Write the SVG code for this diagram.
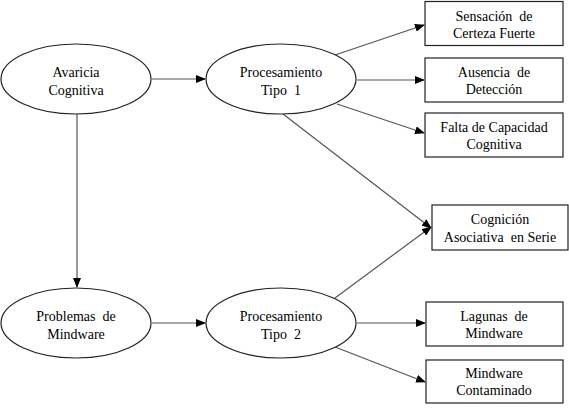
<svg xmlns="http://www.w3.org/2000/svg" width="569" height="408" viewBox="0 0 569 408">
<defs>
<marker id="ah" markerWidth="10" markerHeight="8" refX="9" refY="4" orient="auto" markerUnits="userSpaceOnUse">
<path d="M0,0 L10,4 L0,8 Z" fill="#000"/>
</marker>
<style>
.n{fill:#fff;stroke:#222;stroke-width:1.2}
.t{font-family:"Liberation Serif","Times New Roman",serif;font-size:14px;fill:#000;text-anchor:middle;white-space:pre}
.c{stroke:#555;stroke-width:1.2;fill:none;marker-end:url(#ah)}
</style>
</defs>
<rect width="569" height="408" fill="#fff"/>
<g id="connectors">
<line class="c" x1="152" y1="79" x2="205" y2="79"/>
<line class="c" x1="77" y1="114" x2="77" y2="287"/>
<line class="c" x1="152" y1="323" x2="205" y2="323"/>
<line class="c" x1="335" y1="55" x2="424" y2="25"/>
<line class="c" x1="357" y1="80" x2="424" y2="80"/>
<line class="c" x1="337" y1="104" x2="424" y2="133"/>
<line class="c" x1="283" y1="114" x2="431" y2="228"/>
<line class="c" x1="335" y1="298" x2="431" y2="227"/>
<line class="c" x1="357" y1="323" x2="425" y2="323"/>
<line class="c" x1="335" y1="347" x2="425" y2="382"/>
</g>
<g id="avaricia">
<ellipse class="n" cx="76" cy="79" rx="75" ry="35"/>
<text class="t" x="76" y="77">Avaricia</text>
<text class="t" x="76" y="95">Cognitiva</text>
</g>
<g id="proc1">
<ellipse class="n" cx="281" cy="79" rx="75" ry="35"/>
<text class="t" x="281" y="77">Procesamiento</text>
<text class="t" x="281" y="95">Tipo  1</text>
</g>
<g id="problemas">
<ellipse class="n" cx="76" cy="323" rx="75" ry="35"/>
<text class="t" x="76" y="321">Problemas  de</text>
<text class="t" x="76" y="339">Mindware</text>
</g>
<g id="proc2">
<ellipse class="n" cx="281" cy="323" rx="75" ry="35"/>
<text class="t" x="281" y="321">Procesamiento</text>
<text class="t" x="281" y="339">Tipo  2</text>
</g>
<g id="sensacion">
<rect class="n" x="425" y="1.5" width="138" height="44"/>
<text class="t" x="494" y="21">Sensación  de</text>
<text class="t" x="494" y="38">Certeza Fuerte</text>
</g>
<g id="ausencia">
<rect class="n" x="425" y="58" width="138" height="44"/>
<text class="t" x="494" y="77">Ausencia  de</text>
<text class="t" x="494" y="94">Detección</text>
</g>
<g id="falta">
<rect class="n" x="425" y="113" width="138" height="44"/>
<text class="t" x="494" y="132">Falta de Capacidad</text>
<text class="t" x="494" y="149">Cognitiva</text>
</g>
<g id="cognicion">
<rect class="n" x="432" y="205" width="136" height="45"/>
<text class="t" x="500" y="224">Cognición</text>
<text class="t" x="500" y="242">Asociativa  en Serie</text>
</g>
<g id="lagunas">
<rect class="n" x="426" y="302" width="137" height="44"/>
<text class="t" x="494" y="321">Lagunas  de</text>
<text class="t" x="494" y="338">Mindware</text>
</g>
<g id="contaminado">
<rect class="n" x="426" y="360" width="137" height="43"/>
<text class="t" x="494" y="378">Mindware</text>
<text class="t" x="494" y="395">Contaminado</text>
</g>
</svg>
